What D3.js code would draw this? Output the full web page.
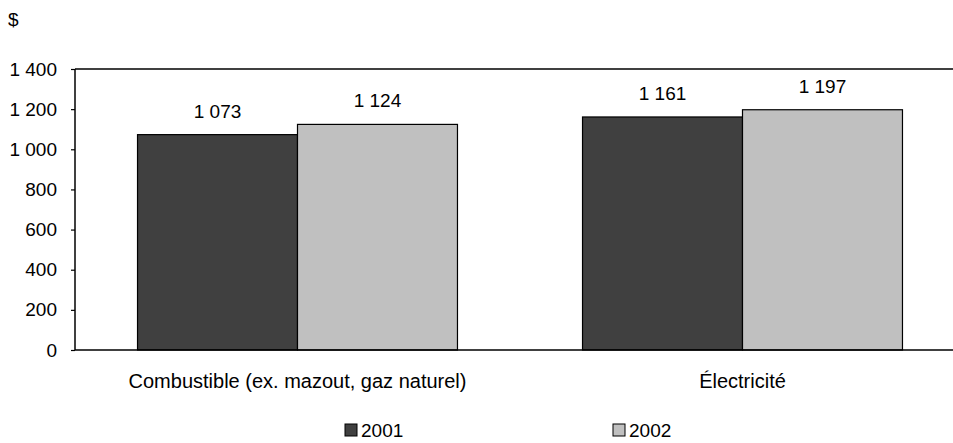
<!DOCTYPE html>
<html>
<head>
<meta charset="utf-8">
<script src="https://cdn.jsdelivr.net/npm/d3@7"></script>
<style>
  body { margin: 0; background: #fff; }
  svg { display: block; font-family: "Liberation Sans", Arial, sans-serif; }
</style>
</head>
<body>
<div id="chart"></div>
<script>
// Data
const categories = ["Combustible (ex. mazout, gaz naturel)", "Électricité"];
const seriesNames = ["2001", "2002"];
const values2001 = [1073, 1161];
const values2002 = [1124, 1197];
const yTicks = [0, 200, 400, 600, 800, 1000, 1200, 1400];
const colors = ["#404040", "#c0c0c0"];

const width = 953, height = 443;
const margin = {top: 69, right: -12, bottom: 93, left: 75};
const fs = 19;

const fmt = v => d3.format(",")(v).replace(/,/g, " ");

const svg = d3.select("#chart").append("svg")
    .attr("width", width)
    .attr("height", height);

const x0 = d3.scaleBand()
    .domain(categories)
    .range([margin.left, width - margin.right])
    .paddingInner(0.281)
    .paddingOuter(0.1405);

const x1 = d3.scaleBand()
    .domain(seriesNames)
    .range([0, x0.bandwidth()]);

const y = d3.scaleLinear()
    .domain([0, 1400])
    .range([height - margin.bottom, margin.top]);

const series = seriesNames.map((name, i) => ({
  name,
  values: [values2001, values2002][i]
}));

// top frame line
svg.append("line")
    .attr("x1", margin.left).attr("x2", width)
    .attr("y1", y(1400)).attr("y2", y(1400))
    .attr("stroke", "#000").attr("stroke-width", 1.5);

// bars
const groups = svg.append("g")
  .selectAll("g")
  .data(categories)
  .join("g")
    .attr("transform", d => `translate(${x0(d)},0)`);

groups.selectAll("rect")
  .data((c, ci) => series.map((s, si) => ({name: s.name, value: s.values[ci], si})))
  .join("rect")
    .attr("x", d => x1(d.name))
    .attr("y", d => y(d.value))
    .attr("width", x1.bandwidth())
    .attr("height", d => y(0) - y(d.value))
    .attr("fill", d => colors[d.si])
    .attr("stroke", "#000")
    .attr("stroke-width", 1.2);

groups.selectAll("text")
  .data((c, ci) => series.map((s, si) => ({name: s.name, value: s.values[ci]})))
  .join("text")
    .attr("x", d => x1(d.name) + x1.bandwidth() / 2)
    .attr("y", d => y(d.value) - 17)
    .attr("text-anchor", "middle")
    .attr("font-size", fs)
    .text(d => fmt(d.value));

// y axis
const yAxis = svg.append("g")
    .attr("transform", `translate(${margin.left},0)`)
    .call(d3.axisLeft(y).tickValues(yTicks).tickSize(4).tickPadding(14).tickFormat(fmt));
yAxis.select(".domain").attr("stroke-width", 1.5).attr("d", `M-0,${y(1400)}H0V${y(0)}`);
yAxis.selectAll(".tick line").attr("stroke-width", 1.2);
yAxis.selectAll("text").attr("font-size", fs).attr("fill", "#000")
    .style("font-family", "'Liberation Sans', Arial, sans-serif");

// x axis baseline
svg.append("line")
    .attr("x1", margin.left).attr("x2", width)
    .attr("y1", y(0)).attr("y2", y(0))
    .attr("stroke", "#000").attr("stroke-width", 1.5);

// category labels
svg.append("g")
  .selectAll("text")
  .data(categories)
  .join("text")
    .attr("x", d => x0(d) + x0.bandwidth() / 2)
    .attr("y", 388)
    .attr("text-anchor", "middle")
    .attr("font-size", fs + 1)
    .text(d => d);

// unit
svg.append("text")
    .attr("x", 8).attr("y", 26)
    .attr("font-size", fs)
    .text("$");

// legend
const legend = svg.append("g")
  .selectAll("g")
  .data(seriesNames)
  .join("g")
    .attr("transform", (d, i) => `translate(${345 + i * 268},424)`);

legend.append("rect")
    .attr("width", 12).attr("height", 12)
    .attr("fill", (d, i) => colors[i])
    .attr("stroke", "#000");

legend.append("text")
    .attr("x", 16).attr("y", 13)
    .attr("font-size", fs)
    .text(d => d);
</script>
</body>
</html>
